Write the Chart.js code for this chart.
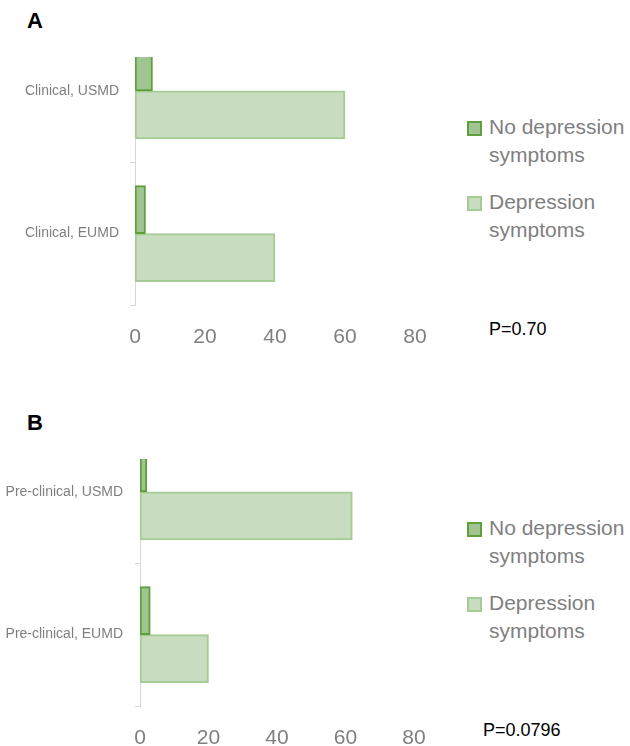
<!DOCTYPE html>
<html>
<head>
<meta charset="utf-8">
<script src="https://cdn.jsdelivr.net/npm/chart.js@4"></script>
<style>
    body { margin: 0; width: 630px; height: 746px; background: #fff; position: relative; overflow: hidden;
           font-family: "Liberation Sans", Arial, sans-serif; }
    .clip { position: absolute; left: 0; width: 630px; overflow: hidden; }
    .clip canvas { position: absolute; left: 0; }
    .panel-title { position: absolute; left: 27px; font-weight: bold; font-size: 22px; line-height: 22px; color: #000; }
    .legend { position: absolute; left: 467px; font-size: 21px; line-height: 28px; color: #7f7f7f; }
    .legend .item { position: relative; padding-left: 22px; margin-bottom: 19px; }
    .legend .box { position: absolute; left: 0; top: 8px; width: 11px; height: 11px; border: 2px solid; }
    .pval { position: absolute; font-size: 18px; line-height: 20px; color: #000; }
</style>
</head>
<body>

<div class="panel-title" style="top:10px">A</div>
<div class="clip" style="top:57px; height:290px"><canvas id="chartA" width="440" height="350" style="top:-57px"></canvas></div>
<div class="legend" style="top:113px">
    <div class="item"><span class="box" style="background:#a0c592;border-color:#5f9f3c"></span>No depression<br>symptoms</div>
    <div class="item"><span class="box" style="background:#c8ddbf;border-color:#a6cb94"></span>Depression<br>symptoms</div>
</div>
<div class="pval" style="left:489px; top:319px">P=0.70</div>

<div class="panel-title" style="top:412px">B</div>
<div class="clip" style="top:459px; height:287px"><canvas id="chartB" width="440" height="351" style="top:-59px"></canvas></div>
<div class="legend" style="top:514px">
    <div class="item"><span class="box" style="background:#a0c592;border-color:#5f9f3c"></span>No depression<br>symptoms</div>
    <div class="item"><span class="box" style="background:#c8ddbf;border-color:#a6cb94"></span>Depression<br>symptoms</div>
</div>
<div class="pval" style="left:483px; top:720px">P=0.0796</div>

<script>
// 데이터
const categoriesA = ['Clinical, USMD', 'Clinical, EUMD'];
const noDepressionA = [5, 3];
const depressionA = [60, 40];

const categoriesB = ['Pre-clinical, USMD', 'Pre-clinical, EUMD'];
const noDepressionB = [2, 3];
const depressionB = [62, 20];

const seriesNames = ['No depression symptoms', 'Depression symptoms'];
const xTicks = [0, 20, 40, 60, 80];

const GRAY = '#7f7f7f';
const AXIS = '#d9d9d9';

// 패널 하나 생성
function createPanel(canvasId, labels, noDep, dep, axisWidth, padTop, padRight, labelPad) {
    const canvas = document.getElementById(canvasId);
    return new Chart(canvas, {
        type: 'bar',
        data: {
            labels: labels,
            datasets: [
                {
                    label: seriesNames[0],
                    data: noDep,
                    backgroundColor: '#a0c592',
                    borderColor: '#5f9f3c',
                    borderWidth: 2,
                    borderSkipped: false,
                    barThickness: 48
                },
                {
                    label: seriesNames[1],
                    data: dep,
                    backgroundColor: '#c8ddbf',
                    borderColor: '#a6cb94',
                    borderWidth: 2,
                    borderSkipped: false,
                    barThickness: 48
                }
            ]
        },
        options: {
            indexAxis: 'y',
            responsive: false,
            animation: false,
            devicePixelRatio: 1,
            layout: { padding: { top: padTop, right: padRight, left: 0, bottom: 0 } },
            plugins: {
                legend: { display: false },
                tooltip: { enabled: false }
            },
            scales: {
                x: {
                    min: 0,
                    max: 80,
                    afterBuildTicks: (s) => { s.ticks = xTicks.map(v => ({ value: v })); },
                    // 라벨 여백이 차트 영역을 줄이지 않도록
                    afterFit: (s) => { s.height = 45; s.paddingLeft = 0; s.paddingRight = 0; },
                    grid: { display: false, drawTicks: false },
                    border: { display: false },
                    ticks: {
                        color: GRAY,
                        padding: 20,
                        font: { family: 'Liberation Sans', size: 21 }
                    }
                },
                y: {
                    afterFit: (s) => { s.width = axisWidth; },
                    grid: {
                        display: true,
                        offset: true,
                        drawOnChartArea: false,
                        drawTicks: true,
                        tickLength: 5,
                        color: AXIS
                    },
                    border: { display: true, color: AXIS, width: 1 },
                    ticks: {
                        color: GRAY,
                        padding: labelPad,
                        font: { family: 'Liberation Sans', size: 14 }
                    }
                }
            }
        }
    });
}

createPanel('chartA', categoriesA, noDepressionA, depressionA, 135, 19, 25, 11);
createPanel('chartB', categoriesB, noDepressionB, depressionB, 140, 20, 26, 12);
</script>
</body>
</html>
